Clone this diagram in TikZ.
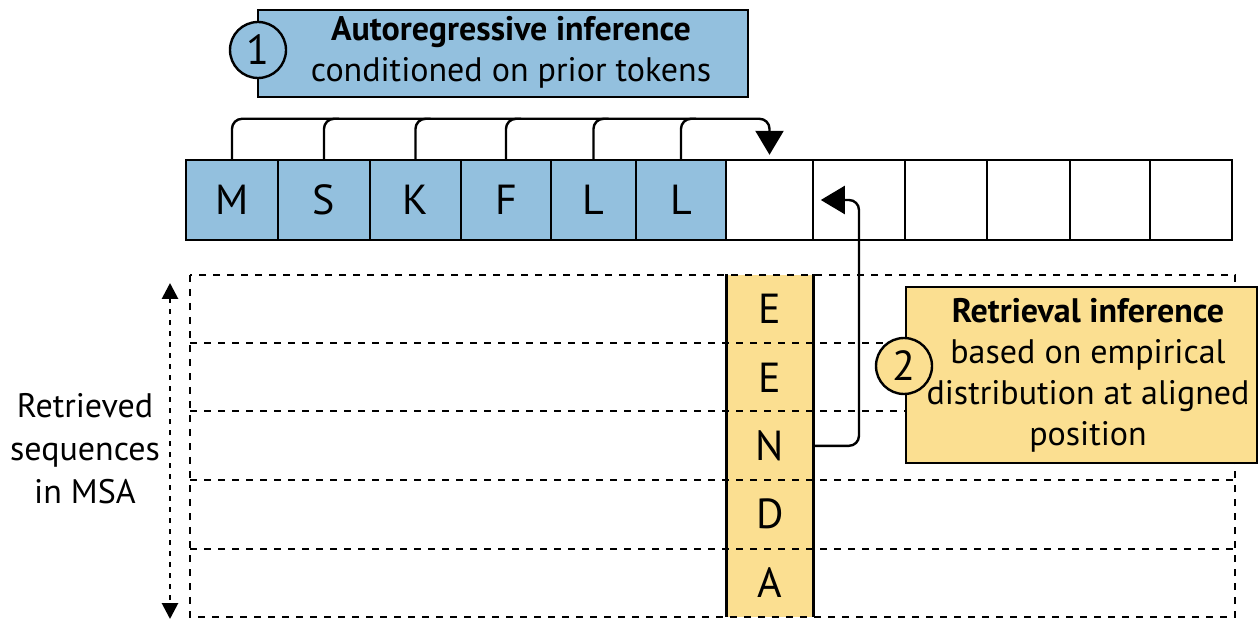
\documentclass[tikz,border=0pt]{standalone}
\usepackage{fontspec}
\setmainfont{PT Sans}
\usetikzlibrary{arrows.meta,positioning}
\definecolor{tokenblue}{RGB}{147,192,222}
\definecolor{msayellow}{RGB}{251,223,145}

\begin{document}
\begin{tikzpicture}[x=0.5pt,y=-0.5pt,
  token cell/.style={draw,line width=1.2pt,minimum height=40pt,inner sep=0pt,font=\fontsize{21}{24}\selectfont},
  msa cell/.style={fill=msayellow,minimum width=43pt,minimum height=34.2pt,inner sep=0pt,font=\fontsize{21}{24}\selectfont},
  info box/.style={draw,line width=1.3pt,inner sep=0pt},
  info text/.style={align=center,inner sep=0pt,font=\fontsize{17}{20.5}\selectfont},
  step badge/.style={circle,draw,line width=1.2pt,minimum size=28pt,inner sep=0pt,font=\fontsize{21}{24}\selectfont},
  grid line/.style={line width=0.6pt,dash pattern=on 3.5pt off 3.5pt},
  link/.style={line width=1.2pt,rounded corners=5pt}]
  \useasboundingbox (0,0) rectangle (1258,620);

  % query sequence
  \node[token cell,fill=tokenblue,minimum width=46pt] (t1) at (232,200) {M};
  \node[token cell,fill=tokenblue,minimum width=46pt] (t2) at (324,200) {S};
  \node[token cell,fill=tokenblue,minimum width=45.5pt] (t3) at (415.5,200) {K};
  \node[token cell,fill=tokenblue,minimum width=45pt] (t4) at (506,200) {F};
  \node[token cell,fill=tokenblue,minimum width=42.5pt] (t5) at (593.5,200) {L};
  \node[token cell,fill=tokenblue,minimum width=45pt] (t6) at (681,200) {L};
  \node[token cell,minimum width=43.5pt] (t7) at (769.5,200) {};
  \node[token cell,minimum width=46pt] (t8) at (859,200) {};
  \node[token cell,minimum width=41pt] (t9) at (946,200) {};
  \node[token cell,minimum width=41.5pt] (t10) at (1028.5,200) {};
  \node[token cell,minimum width=40pt] (t11) at (1110,200) {};
  \node[token cell,minimum width=41pt] (t12) at (1191,200) {};

  % aligned column of the MSA
  \node[msa cell] (m1) at (770,309) {E};
  \node[msa cell] (m2) at (770,377.4) {E};
  \node[msa cell] (m3) at (770,445.8) {N};
  \node[msa cell] (m4) at (770,514.2) {D};
  \node[msa cell] (m5) at (770,582.6) {A};

  % MSA rows
  \draw[grid line] (190,275) rectangle (1235,617);
  \draw[grid line] (190,343) -- (1235,343);
  \draw[grid line] (190,411) -- (1235,411);
  \draw[grid line] (190,480) -- (1235,480);
  \draw[grid line] (190,549) -- (1235,549);
  \draw[line width=1.2pt] (m1.north west) -- (m5.south west);
  \draw[line width=1.2pt] (m1.north east) -- (m5.south east);

  \coordinate (msa top) at (170,283);
  \coordinate (msa bottom) at (170,619);
  \draw[line width=1.4pt,dash pattern=on 2.5pt off 3pt,
    {Triangle[length=8pt,width=8pt]}-{Triangle[length=8pt,width=8pt]}] (msa top) -- (msa bottom);
  \node[align=center,font=\fontsize{17}{21.5}\selectfont] (msa label) at (85,449)
    {Retrieved\\sequences\\in MSA};

  % autoregressive step
  \draw[link,-{Triangle[length=12pt,width=14pt]},shorten >=2pt]
    (t1.north) -- ++(0,-40) -| (t7.north);
  \draw[link] (t2.north) -- ++(0,-40) -- ++(15,0);
  \draw[link] (t3.north) -- ++(0,-40) -- ++(15,0);
  \draw[link] (t4.north) -- ++(0,-40) -- ++(15,0);
  \draw[link] (t5.north) -- ++(0,-40) -- ++(15,0);
  \draw[link] (t6.north) -- ++(0,-40) -- ++(15,0);

  \node[info box,fill=tokenblue,minimum width=245pt,minimum height=43.5pt] (auto box) at (503,53.5) {};
  \node[info text] (auto text) at (511,52)
    {\textbf{Autoregressive inference}\\conditioned on prior tokens};
  \node[step badge,fill=tokenblue] (auto step) at (258,50) {1};

  % retrieval step
  \draw[link,-{Triangle[length=12pt,width=14pt]},shorten >=4.5pt]
    (m3.east) -| (t8.center) -- (t8.west);

  \node[info box,fill=msayellow,minimum width=175.5pt,minimum height=88pt] (retr box) at (1081.5,375) {};
  \node[info text] (retr text) at (1088,375)
    {\textbf{Retrieval inference}\\based on empirical\\distribution at aligned\\position};
  \node[step badge,fill=msayellow] (retr step) at (904,366) {2};
\end{tikzpicture}
\end{document}
